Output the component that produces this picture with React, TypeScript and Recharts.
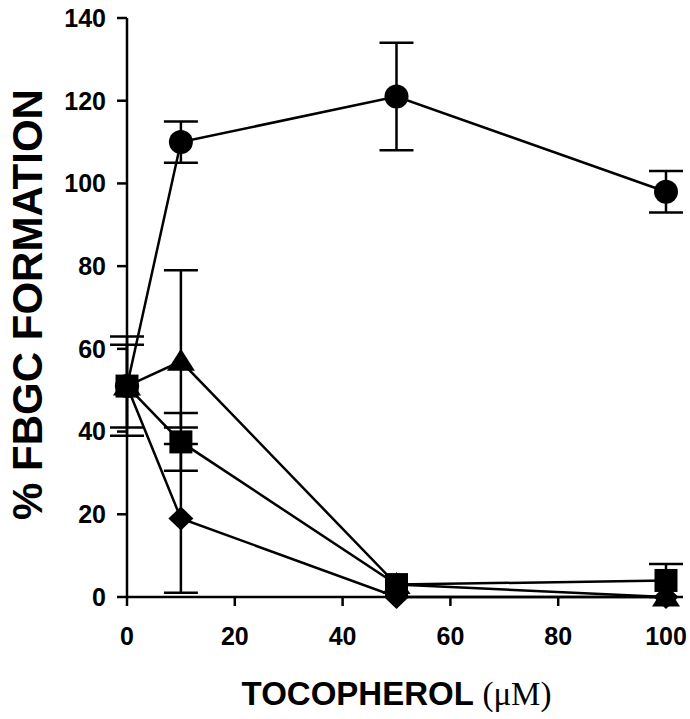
import React from "react";
import {
  LineChart,
  Line,
  XAxis,
  YAxis,
  ErrorBar,
  Label,
} from "recharts";

// tocopherol concentration (µM)
const DOSES = [0, 10, 50, 100];

// % FBGC formation per series, with SEM (asymmetric pairs are [low, high])
const CIRCLE_Y = [51, 110, 121, 98];
const CIRCLE_ERR = [10, 5, 13, 5];
const TRIANGLE_Y = [51, 57, 3, 0];
const TRIANGLE_ERR: (number | number[])[] = [12, [16, 22], 0, 0];
const SQUARE_Y = [51, 37.5, 3, 4];
const SQUARE_ERR = [0, 7, 0, 4];
const DIAMOND_Y = [51, 19, 0, 0];
const DIAMOND_ERR = [0, 18, 0, 0];

const X_TICKS = [0, 20, 40, 60, 80, 100];
const Y_TICKS = [0, 20, 40, 60, 80, 100, 120, 140];

const toRows = (ys: number[], errs: (number | number[])[]) =>
  DOSES.map((x, i) => ({ x, y: ys[i], err: errs[i] }));

const circleData = toRows(CIRCLE_Y, CIRCLE_ERR);
const triangleData = toRows(TRIANGLE_Y, TRIANGLE_ERR);
const squareData = toRows(SQUARE_Y, SQUARE_ERR);
const diamondData = toRows(DIAMOND_Y, DIAMOND_ERR);

const SANS = "'Liberation Sans', Arial, sans-serif";
const SERIF = "'Liberation Serif', 'Times New Roman', serif";

const tickStyle = { fill: "#000", fontSize: 25, fontWeight: 700, fontFamily: SANS };

const CircleDot = (p: any) => (
  <circle key={`c${p.index}`} cx={p.cx} cy={p.cy} r={12} fill="#000" />
);
const SquareDot = (p: any) => (
  <rect key={`s${p.index}`} x={p.cx - 11.5} y={p.cy - 11.5} width={23} height={23} fill="#000" />
);
const TriangleDot = (p: any) => (
  <polygon
    key={`t${p.index}`}
    points={`${p.cx},${p.cy - 12.5} ${p.cx - 14},${p.cy + 9.5} ${p.cx + 14},${p.cy + 9.5}`}
    fill="#000"
  />
);
const DiamondDot = (p: any) => (
  <polygon
    key={`d${p.index}`}
    points={`${p.cx},${p.cy - 12} ${p.cx + 12.5},${p.cy} ${p.cx},${p.cy + 12} ${p.cx - 12.5},${p.cy}`}
    fill="#000"
  />
);

const XTitle = (props: any) => {
  const vb = props.viewBox;
  return (
    <text x={vb.x + vb.width / 2} y={vb.y + 108} textAnchor="middle" fill="#000">
      <tspan fontFamily={SANS} fontWeight={700} fontSize={33}>TOCOPHEROL </tspan>
      <tspan fontFamily={SERIF} fontSize={33}>(μM)</tspan>
    </text>
  );
};

const YTitle = (props: any) => {
  const vb = props.viewBox;
  const x = vb.x + 15;
  const y = vb.y + vb.height / 2 - 3;
  return (
    <text
      x={x}
      y={y}
      transform={`rotate(-90, ${x}, ${y})`}
      textAnchor="middle"
      fill="#000"
      fontFamily={SANS}
      fontWeight={700}
      fontSize={42}
    >
      % FBGC FORMATION
    </text>
  );
};

const series = [
  { key: "circle", data: circleData, dot: CircleDot },
  { key: "triangle", data: triangleData, dot: TriangleDot },
  { key: "diamond", data: diamondData, dot: DiamondDot },
  { key: "square", data: squareData, dot: SquareDot },
];

export default function App() {
  return (
    <div style={{ position: "absolute", left: 0, top: 0, background: "#fff" }}>
      <LineChart width={690} height={719} margin={{ top: 18, right: 24, bottom: 0, left: 27 }}>
        <XAxis
          type="number"
          dataKey="x"
          domain={[0, 100]}
          ticks={X_TICKS}
          tick={tickStyle}
          tickSize={9}
          tickMargin={21}
          height={122}
          axisLine={{ stroke: "#000", strokeWidth: 2.5 }}
          tickLine={{ stroke: "#000", strokeWidth: 2.5 }}
        >
          <Label content={XTitle} />
        </XAxis>
        <YAxis
          type="number"
          domain={[0, 140]}
          ticks={Y_TICKS}
          tick={tickStyle}
          tickSize={10}
          tickMargin={11}
          width={100}
          axisLine={{ stroke: "#000", strokeWidth: 2.5 }}
          tickLine={{ stroke: "#000", strokeWidth: 2.5 }}
        >
          <Label content={YTitle} />
        </YAxis>
        {series.map((s) => (
          <Line
            key={s.key}
            data={s.data}
            dataKey="y"
            type="linear"
            stroke="#000"
            strokeWidth={2.5}
            dot={s.dot}
            activeDot={false}
            isAnimationActive={false}
          >
            <ErrorBar dataKey="err" direction="y" width={17} stroke="#000" strokeWidth={2.5} />
          </Line>
        ))}
      </LineChart>
    </div>
  );
}
